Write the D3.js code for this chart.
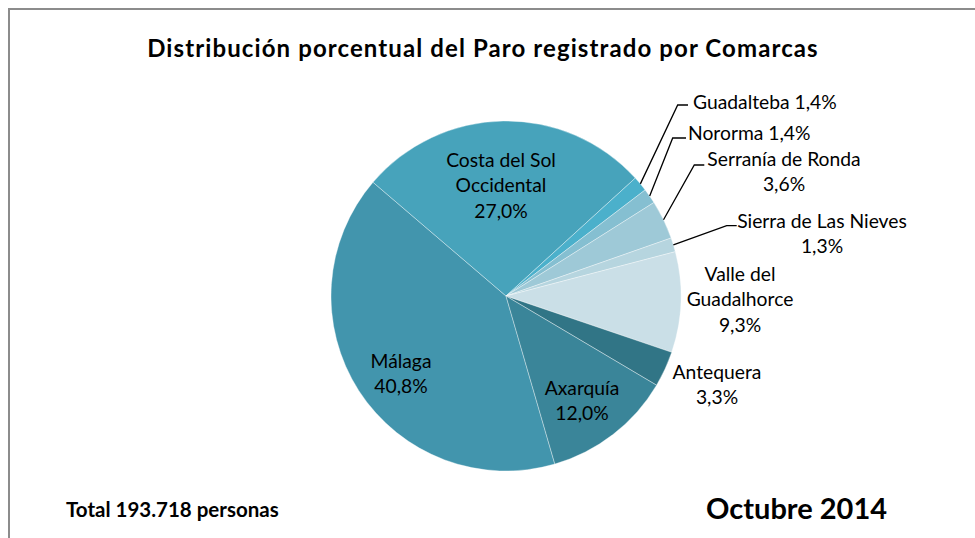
<!DOCTYPE html>
<html>
<head>
<meta charset="utf-8">
<script src="https://cdn.jsdelivr.net/npm/d3@7"></script>
<style>
  body { margin: 0; background: #fff; }
  text { font-family: Lato, "Noto Sans", sans-serif; fill: #000; }
</style>
</head>
<body>
<script>
// datos del grafico
var comarcas = ['Málaga', 'Costa del Sol Occidental', 'Guadalteba', 'Nororma', 'Serranía de Ronda',
                'Sierra de Las Nieves', 'Valle del Guadalhorce', 'Antequera', 'Axarquía'];
var porcentajes = [40.8, 27.0, 1.4, 1.4, 3.6, 1.3, 9.3, 3.3, 12.0];
var etiquetas = [['Málaga'], ['Costa del Sol', 'Occidental'], ['Guadalteba'], ['Nororma'], ['Serranía de Ronda'],
                 ['Sierra de Las Nieves'], ['Valle del', 'Guadalhorce'], ['Antequera'], ['Axarquía']];
var colores = ['#4295ad', '#47a3bb', '#4bb0cb', '#85bfd1', '#9ec9d7', '#b6d5df', '#cadfe7', '#317586', '#3a8599'];

var titulo = 'Distribución porcentual del Paro registrado por Comarcas';
var total = 'Total 193.718 personas';
var fecha = 'Octubre 2014';

// posicion de las etiquetas, relativa al centro de la tarta
// inline: porcentaje en la misma linea
var labelLayout = {
    'Málaga':                   {dx: -105, dy: 361 - 296, anchor: 'middle'},
    'Costa del Sol Occidental': {dx: -5, dy: 160 - 296, anchor: 'middle'},
    'Guadalteba':               {dx: 187, dy: 102 - 296, anchor: 'start', inline: true, elbow: [171.7, -191], end: 182},
    'Nororma':                  {dx: 182, dy: 133 - 296, anchor: 'start', inline: true, elbow: [166.7, -158], end: 180},
    'Serranía de Ronda':        {dx: 278, dy: 159 - 296, anchor: 'middle', elbow: [188.3, -131], end: 198.3},
    'Sierra de Las Nieves':     {dx: 316, dy: 221 - 296, anchor: 'middle', elbow: [220.7, -70.3], end: 230.7},
    'Valle del Guadalhorce':    {dx: 234, dy: 274 - 296, anchor: 'middle'},
    'Antequera':                {dx: 211, dy: 372 - 296, anchor: 'middle'},
    'Axarquía':                 {dx: 76, dy: 388 - 296, anchor: 'middle'}
};

var width = 975, height = 538;
var cx = 506, cy = 296, radius = 175;
var lineHeight = 25.5;

var locale = d3.formatLocale({decimal: ',', thousands: '.', grouping: [3], currency: ['', '€']});
var fmt = locale.format('.1f');

var svg = d3.select('body').append('svg').attr('width', width).attr('height', height);

// marco
svg.append('path')
    .attr('d', 'M9,' + height + 'V9H' + width)
    .attr('fill', 'none')
    .attr('stroke', '#8c8c8c')
    .attr('stroke-width', 2);

svg.append('text')
    .attr('x', 483).attr('y', 57)
    .attr('text-anchor', 'middle')
    .style('font-size', '24px').style('font-weight', 'bold')
    .style('letter-spacing', '1.1px')
    .text(titulo);

var datos = comarcas.map(function (c, i) {
    return {name: c, value: porcentajes[i], color: colores[i], lines: etiquetas[i]};
});

var startDeg = 163.8;
var pie = d3.pie()
    .sort(null)
    .value(function (d) { return d.value; })
    .startAngle(startDeg * Math.PI / 180)
    .endAngle(startDeg * Math.PI / 180 + 2 * Math.PI);

var arc = d3.arc().innerRadius(0).outerRadius(radius);

var g = svg.append('g').attr('transform', 'translate(' + cx + ',' + cy + ')');
var arcs = pie(datos);

g.selectAll('path.slice')
    .data(arcs)
    .enter().append('path')
    .attr('class', 'slice')
    .attr('d', arc)
    .attr('fill', function (d) { return d.data.color; })
    .attr('stroke', 'rgba(255,255,255,0.45)')
    .attr('stroke-width', 0.8);

// lineas guia
arcs.forEach(function (d) {
    var L = labelLayout[d.data.name];
    if (!L.elbow) return;
    var mid = (d.startAngle + d.endAngle) / 2;
    var p0 = [Math.sin(mid) * radius, -Math.cos(mid) * radius];
    g.append('polyline')
        .attr('points', [p0, L.elbow, [L.end, L.elbow[1]]].map(function (p) { return p.join(','); }).join(' '))
        .attr('fill', 'none')
        .attr('stroke', '#000')
        .attr('stroke-width', 1.3);
});

// etiquetas
arcs.forEach(function (d) {
    var L = labelLayout[d.data.name];
    var pct = fmt(d.data.value) + '%';
    var lines = L.inline ? [d.data.lines[0] + ' ' + pct] : d.data.lines.concat([pct]);
    var t = g.append('text')
        .attr('text-anchor', L.anchor)
        .style('font-size', '19.3px');
    lines.forEach(function (s, i) {
        t.append('tspan')
            .attr('x', L.dx)
            .attr('y', L.dy + i * lineHeight)
            .attr('dy', '0.35em')
            .text(s);
    });
});

svg.append('text')
    .attr('x', 66).attr('y', 517)
    .style('font-size', '20.5px').style('font-weight', 'bold')
    .text(total);

svg.append('text')
    .attr('x', 706).attr('y', 519)
    .style('font-size', '29px').style('font-weight', 'bold')
    .text(fecha);
</script>
</body>
</html>
